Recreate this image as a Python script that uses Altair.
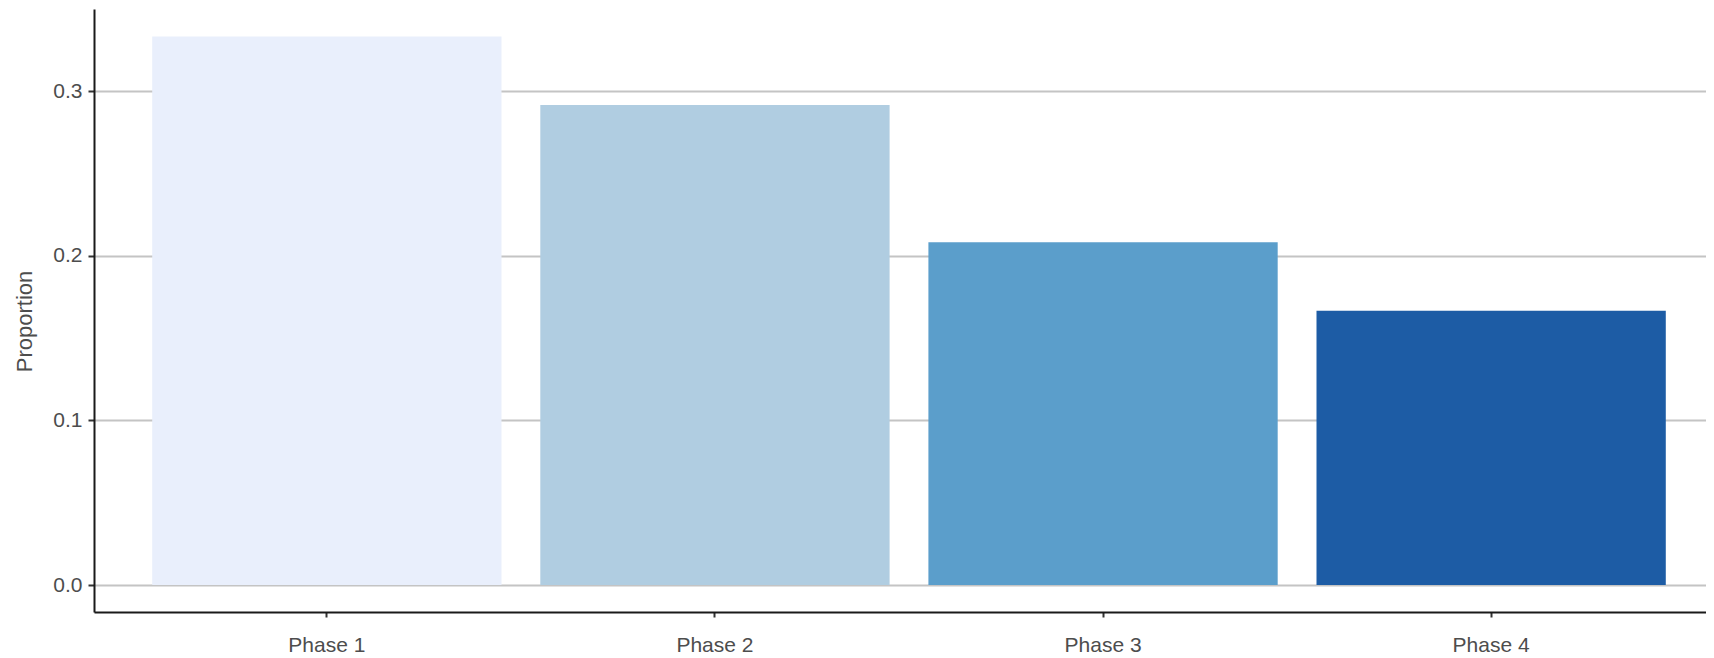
import altair as alt
import pandas as pd

phases = ["Phase 1", "Phase 2", "Phase 3", "Phase 4"]
proportions = [0.3333, 0.2917, 0.2083, 0.1667]
colors = ["#e9effc", "#b0cde1", "#5b9ecb", "#1d5ca5"]

df = pd.DataFrame({"phase": phases, "proportion": proportions})

font = "Liberation Sans"

chart = (
    alt.Chart(df)
    .mark_bar()
    .encode(
        x=alt.X(
            "phase:N",
            sort=phases,
            title=None,
            scale=alt.Scale(paddingInner=0.1, paddingOuter=0.15, range=[0, 1630]),
            axis=alt.Axis(
                labelAngle=0,
                labelFont=font,
                labelFontSize=21,
                labelColor="#4d4d4d",
                labelPadding=17,
                tickSize=5,
                tickWidth=2,
                tickColor="#333333",
                domainColor="#1a1a1a",
                domainWidth=2,
                grid=False,
            ),
        ),
        y=alt.Y(
            "proportion:Q",
            title="Proportion",
            scale=alt.Scale(domain=[-0.0164, 0.35], nice=False, zero=False),
            axis=alt.Axis(
                values=[0.0, 0.1, 0.2, 0.3],
                format=".1f",
                labelFont=font,
                labelFontSize=21,
                labelColor="#4d4d4d",
                labelPadding=6,
                tickSize=6,
                tickWidth=2,
                tickColor="#333333",
                domainColor="#1a1a1a",
                domainWidth=2,
                grid=True,
                gridColor="#c4c4c4",
                gridWidth=2,
                titleFont=font,
                titleFontSize=22,
                titleFontWeight="normal",
                titleColor="#4d4d4d",
                titleAlign="center",
                titleBaseline="middle",
                titleX=-70,
                titleY=312,
            ),
        ),
        y2=alt.datum(0),
        color=alt.Color(
            "phase:N",
            sort=phases,
            scale=alt.Scale(domain=phases, range=colors),
            legend=None,
        ),
    )
    .properties(
        width=1612,
        height=603,
        autosize=alt.AutoSizeParams(type="none"),
        padding={"left": 86, "top": 1, "right": 0, "bottom": 46},
    )
    .configure_view(stroke=None)
)

chart.save("out.html", embed_options={"renderer": "svg", "actions": False})
